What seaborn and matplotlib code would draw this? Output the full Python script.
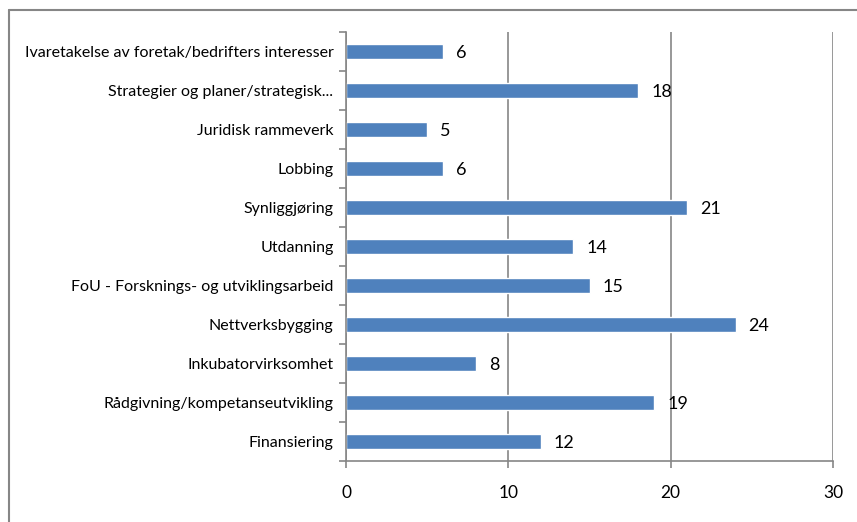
import matplotlib
matplotlib.use("Agg")
import matplotlib.pyplot as plt
from matplotlib.lines import Line2D
import seaborn as sns
import pandas as pd

categories = [
    "Ivaretakelse av foretak/bedrifters interesser",
    "Strategier og planer/strategisk...",
    "Juridisk rammeverk",
    "Lobbing",
    "Synliggjøring",
    "Utdanning",
    "FoU - Forsknings- og utviklingsarbeid",
    "Nettverksbygging",
    "Inkubatorvirksomhet",
    "Rådgivning/kompetanseutvikling",
    "Finansiering",
]
values = [6, 18, 5, 6, 21, 14, 15, 24, 8, 19, 12]
x_ticks = [0, 10, 20, 30]

df = pd.DataFrame({"kategori": categories, "antall": values})

sns.set_style("white")
plt.rcParams["font.family"] = ["Lato", "DejaVu Sans"]

grey = "#868686"
fig = plt.figure(figsize=(8.57, 5.22), dpi=100)
ax = fig.add_axes([346 / 857, 1 - 461 / 522, (833 - 346) / 857, (461 - 32) / 522])

sns.barplot(data=df, y="kategori", x="antall", orient="h", color="#4F81BD",
            width=0.4, saturation=1, ax=ax, order=categories)

ax.set_xlim(0, 30)
ax.set_ylim(10.5, -0.5)
ax.set_xticks(x_ticks)
ax.set_xlabel("")
ax.set_ylabel("")

# gridlines
ax.grid(axis="x", color=grey, lw=1.2)
ax.grid(axis="y", visible=False)
ax.set_axisbelow(True)

for side in ["top", "right"]:
    ax.spines[side].set_visible(False)
for side in ["left", "bottom"]:
    ax.spines[side].set_color(grey)
    ax.spines[side].set_linewidth(1.2)

# category boundary ticks on y, tick marks on x
ax.set_yticks([i - 0.5 for i in range(len(categories) + 1)], minor=True)
ax.tick_params(axis="y", which="major", length=0, pad=9, labelsize=11.5, labelcolor="black")
ax.tick_params(axis="y", which="minor", length=5, width=1.2, color=grey, direction="out", left=True)
ax.tick_params(axis="x", which="major", length=5, width=1.2, color=grey, direction="out",
               bottom=True, pad=12, labelsize=12.5, labelcolor="black")

# data labels
for i, v in enumerate(values):
    ax.text(v + 0.8, i + 0.05, str(v), va="center", ha="left", fontsize=13, color="black")

# chart area border (top and left visible)
fig.add_artist(Line2D([9 / 857, 1.0], [1 - 10 / 522, 1 - 10 / 522],
                      transform=fig.transFigure, color=grey, lw=1.5))
fig.add_artist(Line2D([9 / 857, 9 / 857], [0.0, 1 - 10 / 522],
                      transform=fig.transFigure, color=grey, lw=1.5))

fig.savefig("out.png", dpi=100)
